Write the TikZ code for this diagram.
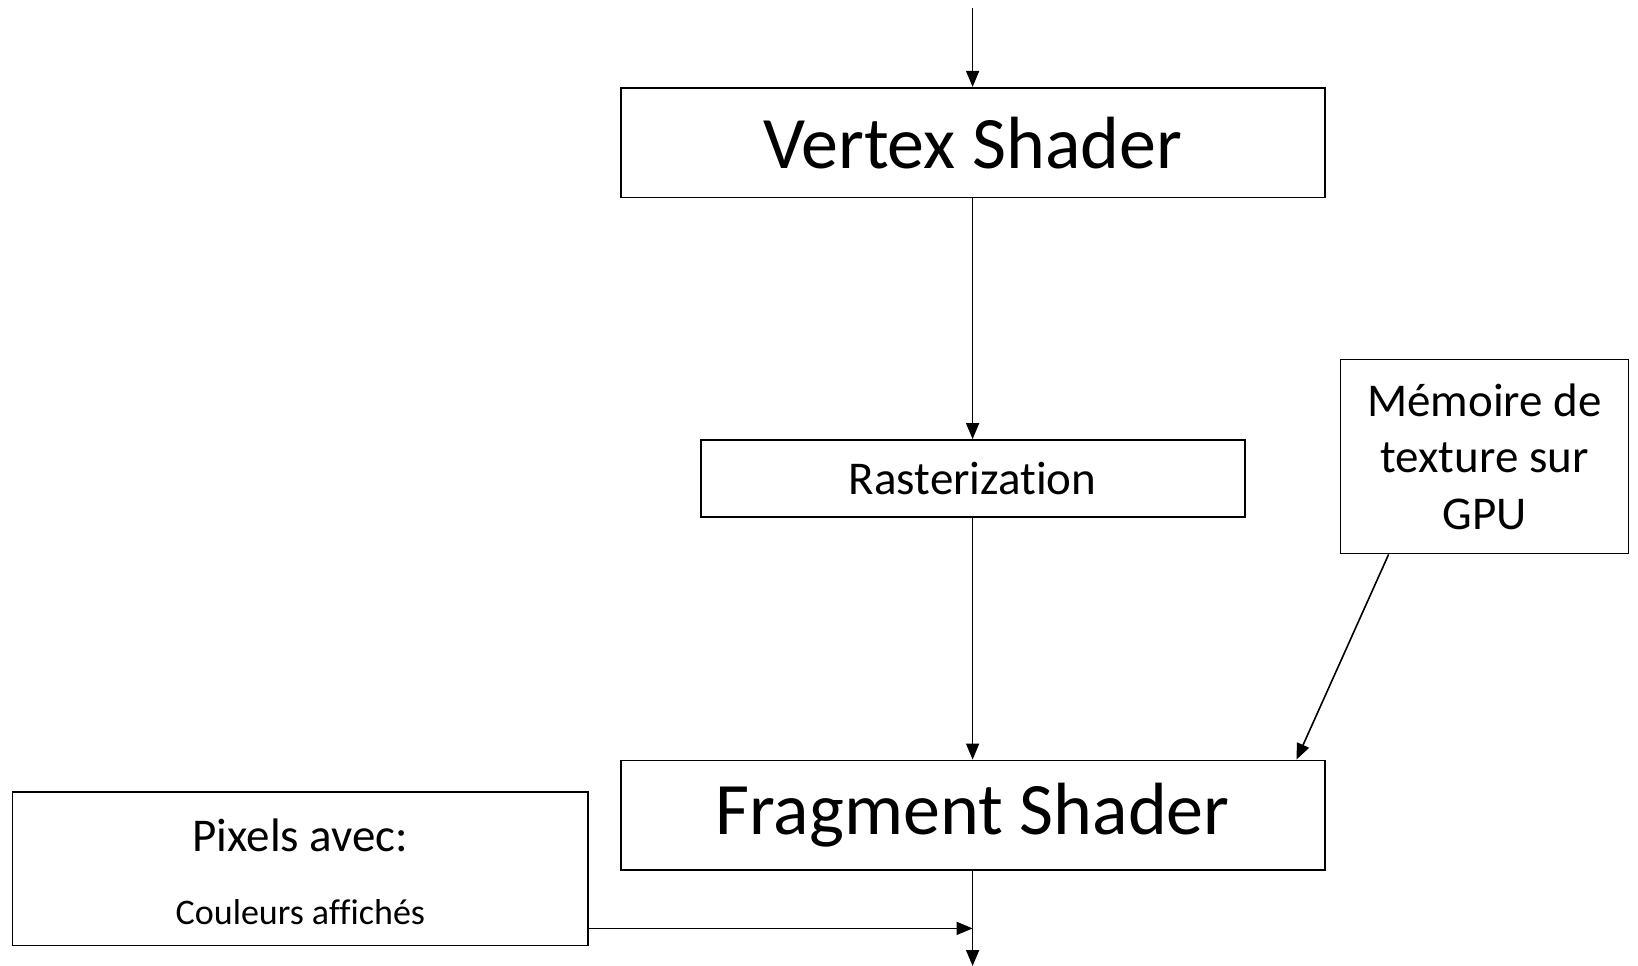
\documentclass[tikz,border=0pt]{standalone}
\usepackage{fontspec}
\setmainfont{Carlito}[Ligatures=NoCommon]
\usetikzlibrary{arrows.meta,calc}
\tikzset{
  box/.style={draw=black, line width=1.8pt, fill=white, inner sep=0pt},
  conn/.style={draw=black, line width=1.6pt, -{Triangle[length=16pt,width=13pt]}},
  bigtxt/.style={font=\fontsize{74}{89}\selectfont},
  midtxt/.style={font=\fontsize{47}{56.4}\selectfont},
  smalltxt/.style={font=\fontsize{36}{43}\selectfont}
}
\begin{document}
\begin{tikzpicture}[x=1pt,y=-1pt]
\useasboundingbox[fill=white] (0,0) rectangle (1638,966);
\node[box, bigtxt, minimum width=704pt, minimum height=109.6pt] (vs) at (972.6,142.6) {Vertex Shader};
\node[box, midtxt, minimum width=544pt, minimum height=77pt] (rast) at (972.6,478.5) {Rasterization};
\node[box, midtxt, minimum width=288pt, minimum height=194pt, align=center] (mem) at (1484.5,456.5) {Mémoire de\\texture sur\\GPU};
\node[box, bigtxt, minimum width=704pt, minimum height=109.6pt] (frag) at (972.6,815.3) {Fragment Shader};
\node[box, minimum width=575.7pt, minimum height=153.6pt] (pix) at (300.4,868.7) {};
\node[midtxt, anchor=base] (pixt1) at (300.4,851) {Pixels avec:};
\node[smalltxt, anchor=base] (pixt2) at (300.4,924) {Couleurs affichés};
\coordinate (in) at (972.6,8);
\coordinate (out) at (972.6,966);
\coordinate (pixout) at ($(pix.south east)+(0,-18)$);
\draw[conn] (in) -- (vs.north);
\draw[conn] (vs.south) -- (rast.north);
\draw[conn] (rast.south) -- (frag.north);
\draw[conn] ([xshift=49pt]mem.south west) -- ([xshift=-29pt]frag.north east);
\draw[conn] (frag.south) -- (out);
\draw[conn] (pixout) -- (frag.south |- pixout);
\end{tikzpicture}
\end{document}
